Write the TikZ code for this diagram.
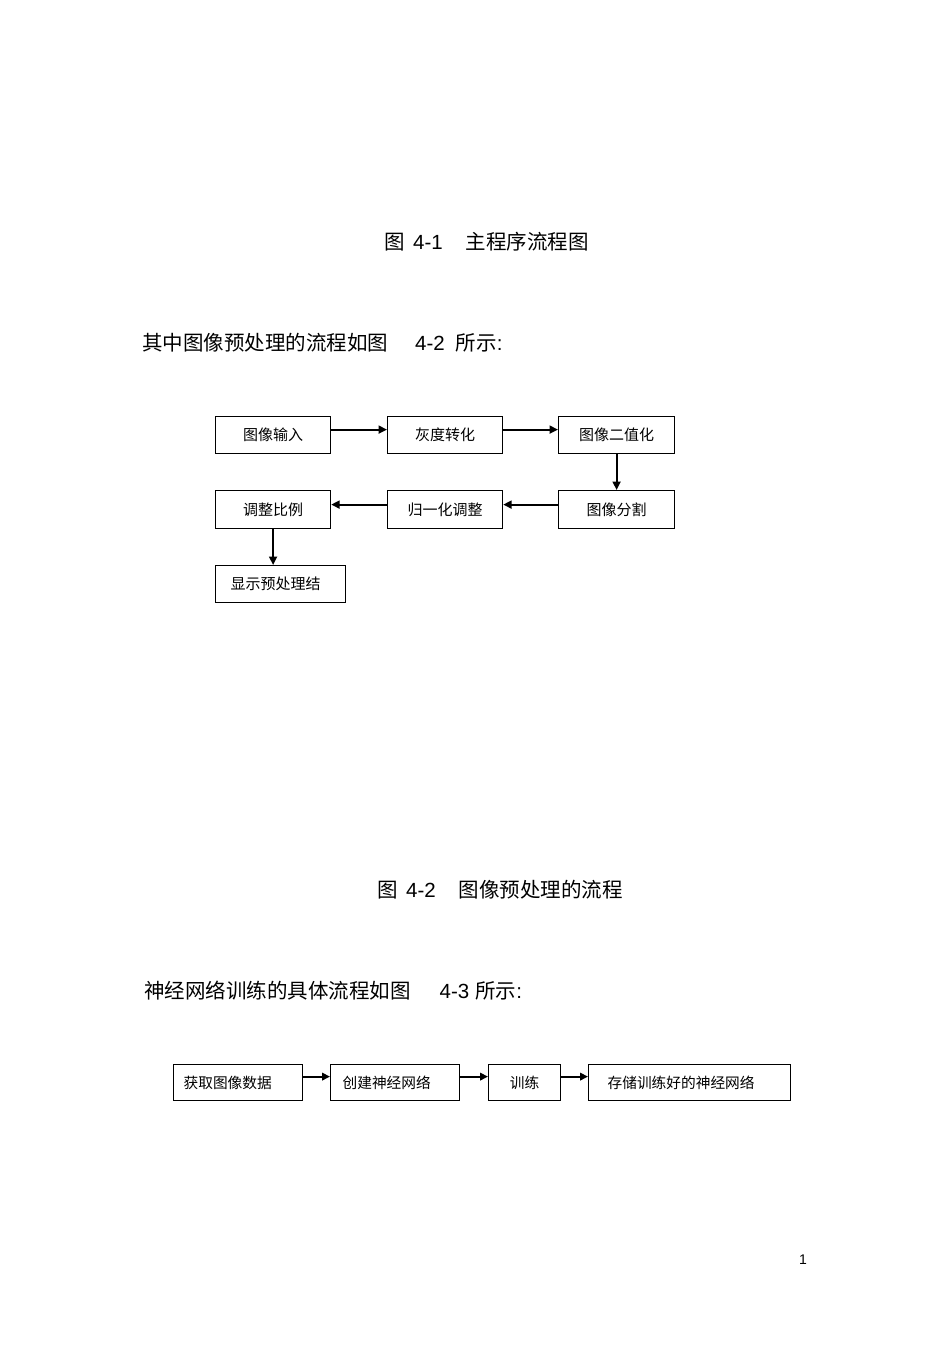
\documentclass[tikz,border=0pt]{standalone}
\usepackage{fontspec}
\setmainfont{Liberation Sans}
\newfontfamily\cjk{Noto Sans CJK SC}
\usetikzlibrary{arrows.meta,calc}
\begin{document}
\begin{tikzpicture}[x=1pt,y=-1pt,
  stepbox/.style={draw=black,line width=1.2pt,minimum height=37pt,inner sep=0pt,
    font=\cjk\fontsize{15}{15}\selectfont,anchor=north west},
  lowbox/.style={stepbox,minimum height=36pt,font=\cjk\fontsize{14.7}{14.7}\selectfont},
  leftbox/.style 2 args={inner xsep=#1,text width=#2,align=left},
  arr/.style={line width=1.8pt,-{Triangle[length=8.5pt,width=8pt]}},
  arrlow/.style={line width=2.1pt,-{Triangle[length=8pt,width=7.5pt]}},
  heading/.style={anchor=base west,inner sep=0pt,font=\fontsize{20.5}{20.5}\selectfont}]
\useasboundingbox (0,0) rectangle (950,1345);

% captions and lines of text
\node[heading] (cap1) at (384,249) {{\cjk 图}\hspace{8.5pt}4-1\hspace{23pt}{\cjk 主程序流程图}};
\node[heading] (line2) at (142,350) {{\cjk 其中图像预处理的流程如图}\hspace{27pt}4-2\hspace{11pt}{\cjk 所示}:};
\node[heading] (cap2) at (377,897) {{\cjk 图}\hspace{8.5pt}4-2\hspace{23pt}{\cjk 图像预处理的流程}};
\node[heading] (line3) at (144,998) {{\cjk 神经网络训练的具体流程如图}\hspace{29pt}4-3\hspace{6pt}{\cjk 所示}:};

% flow 4-2
\node[stepbox,minimum width=115pt] (b1) at (215,416) {图像输入};
\node[stepbox,minimum width=115pt] (b2) at (387,416) {灰度转化};
\node[stepbox,minimum width=116pt] (b3) at (558,416) {图像二值化};
\node[stepbox,minimum width=116pt,minimum height=38pt] (b4) at (558,490) {图像分割};
\node[stepbox,minimum width=115pt,minimum height=38pt] (b5) at (387,490) {归一化调整};
\node[stepbox,minimum width=115pt,minimum height=38pt] (b6) at (215,490) {调整比例};
\node[stepbox,minimum width=130pt,leftbox={15pt}{100pt}] (b7) at (215,565) {显示预处理结};

\draw[arr] ([yshift=5.5pt]b1.east) -- ([yshift=5.5pt]b2.west);
\draw[arr] ([yshift=5.5pt]b2.east) -- ([yshift=5.5pt]b3.west);
\draw[arr] (b3.south) -- (b4.north);
\draw[arr] ([yshift=5pt]b4.west) -- ([yshift=5pt]b5.east);
\draw[arr] ([yshift=5pt]b5.west) -- ([yshift=5pt]b6.east);
\draw[arr] (b6.south) -- (b6.south |- b7.north);

% flow 4-3
\node[lowbox,minimum width=129pt,leftbox={10pt}{109pt}] (c1) at (173,1064) {获取图像数据};
\node[lowbox,minimum width=129pt,leftbox={12pt}{105pt}] (c2) at (330,1064) {创建神经网络};
\node[lowbox,minimum width=72pt] (c3) at (488,1064) {训练};
\node[lowbox,minimum width=202pt,leftbox={19pt}{164pt}] (c4) at (588,1064) {存储训练好的神经网络};

\draw[arrlow] ([yshift=6pt]c1.east) -- ([yshift=6pt]c2.west);
\draw[arrlow] ([yshift=6pt]c2.east) -- ([yshift=6pt]c3.west);
\draw[arrlow] ([yshift=6pt]c3.east) -- ([yshift=6pt]c4.west);

% page number
\node[font=\fontsize{14}{14}\selectfont,inner sep=0pt] (pg) at (803,1260) {1};
\end{tikzpicture}
\end{document}
